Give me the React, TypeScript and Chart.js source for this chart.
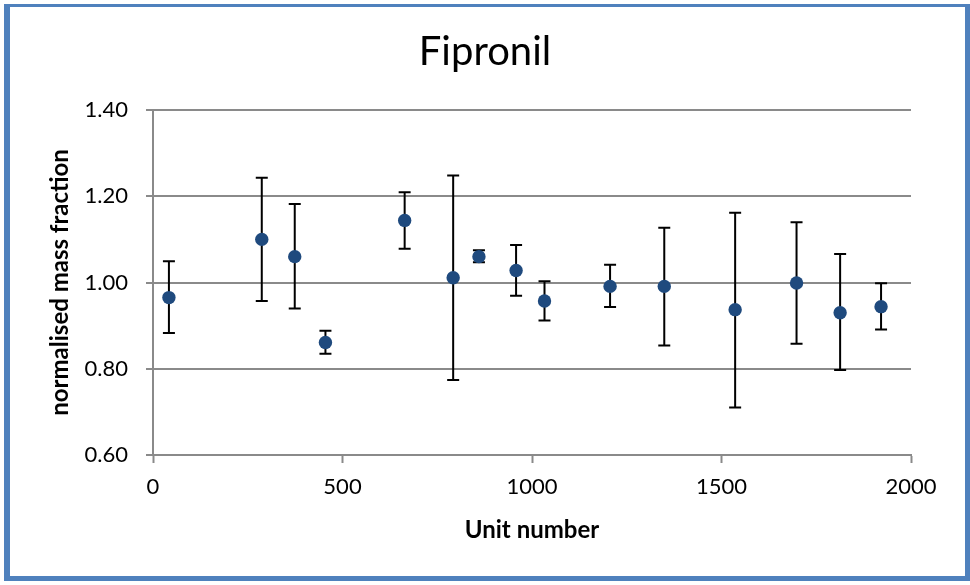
import React, { useEffect, useRef } from "react";
import { Chart, registerables } from "chart.js";

Chart.register(...registerables);

// Unit numbers sampled and their normalised mass fractions with uncertainty limits
const units = [42, 287, 374, 455, 664, 792, 860, 958, 1033, 1206, 1349, 1536, 1698, 1813, 1921];
const means = [0.965, 1.1, 1.06, 0.861, 1.144, 1.011, 1.06, 1.028, 0.957, 0.991, 0.991, 0.937, 0.999, 0.93, 0.944];
const upper = [1.049, 1.243, 1.182, 0.888, 1.209, 1.248, 1.075, 1.087, 1.003, 1.041, 1.127, 1.162, 1.14, 1.066, 0.998];
const lower = [0.883, 0.957, 0.94, 0.835, 1.078, 0.774, 1.047, 0.969, 0.912, 0.943, 0.854, 0.71, 0.858, 0.797, 0.891];

const TITLE = "Fipronil";
const FONT = "Lato, 'Open Sans', sans-serif";
const GRID = "#8a8a8a";

// Vertical error bars with caps, drawn beneath the markers
const errorBars = {
  id: "errorBars",
  beforeDatasetsDraw(chart: any) {
    const { ctx, scales } = chart;
    const xs = scales.x;
    const ys = scales.y;
    ctx.save();
    ctx.strokeStyle = "#000000";
    ctx.lineWidth = 2;
    const cap = 6;
    units.forEach((u, i) => {
      const px = xs.getPixelForValue(u);
      const top = ys.getPixelForValue(upper[i]);
      const bot = ys.getPixelForValue(lower[i]);
      ctx.beginPath();
      ctx.moveTo(px, top);
      ctx.lineTo(px, bot);
      ctx.moveTo(px - cap, top);
      ctx.lineTo(px + cap, top);
      ctx.moveTo(px - cap, bot);
      ctx.lineTo(px + cap, bot);
      ctx.stroke();
    });
    ctx.restore();
  },
};

// Chart heading centred on the whole canvas
const heading = {
  id: "heading",
  afterDraw(chart: any) {
    const { ctx } = chart;
    ctx.save();
    ctx.fillStyle = "#000000";
    ctx.font = `normal 40px ${FONT}`;
    ctx.textAlign = "center";
    ctx.textBaseline = "alphabetic";
    ctx.fillText(TITLE, chart.width / 2, 65);
    ctx.restore();
  },
};

export default function App() {
  const canvasRef = useRef<HTMLCanvasElement | null>(null);

  useEffect(() => {
    if (!canvasRef.current) return;
    const chart = new Chart(canvasRef.current, {
      type: "scatter",
      data: {
        datasets: [
          {
            label: TITLE,
            data: units.map((u, i) => ({ x: u, y: means[i] })),
            backgroundColor: "#1F4A7E",
            borderWidth: 0,
            pointRadius: 6.7,
            pointHoverRadius: 6.7,
          },
        ],
      },
      options: {
        responsive: false,
        animation: false,
        devicePixelRatio: 1,
        layout: { padding: { left: 0, right: 59, top: 110, bottom: 0 } },
        plugins: {
          legend: { display: false },
          tooltip: { enabled: false },
          title: { display: false },
        },
        scales: {
          x: {
            type: "linear",
            min: 0,
            max: 2000,
            afterFit: (s: any) => {
              s.height = 130;
            },
            ticks: {
              stepSize: 500,
              color: "#000000",
              font: { family: FONT, size: 22 },
              padding: 11,
              maxRotation: 0,
              callback: (v: any) => String(v),
            },
            grid: {
              drawOnChartArea: false,
              drawTicks: true,
              tickLength: 8,
              tickColor: GRID,
              tickWidth: 2,
            },
            border: { display: true, color: GRID, width: 2 },
            title: {
              display: true,
              text: "Unit number",
              color: "#000000",
              font: { family: FONT, size: 24, weight: "bold", lineHeight: 1.2 },
              padding: { top: 0, bottom: 40.6 },
            },
          },
          y: {
            type: "linear",
            min: 0.6,
            max: 1.4,
            afterFit: (s: any) => {
              s.width = 153;
            },
            ticks: {
              stepSize: 0.2,
              color: "#000000",
              font: { family: FONT, size: 22 },
              padding: 18,
              callback: (v: any) => Number(v).toFixed(2),
            },
            grid: {
              color: GRID,
              lineWidth: 2,
              drawTicks: true,
              tickLength: 7,
              tickColor: GRID,
            },
            border: { display: true, color: GRID, width: 2 },
            title: {
              display: true,
              text: "normalised mass fraction",
              color: "#000000",
              font: { family: FONT, size: 24, weight: "bold", lineHeight: 1.2 },
              padding: { top: 45.6, bottom: 0 },
            },
          },
        },
      },
      plugins: [errorBars, heading],
    });
    return () => chart.destroy();
  }, []);

  return (
    <div style={{ position: "fixed", left: 0, top: 0, width: 970, height: 585, background: "#ffffff" }}>
      <div
        style={{
          position: "absolute",
          left: 4,
          top: 4,
          width: 966,
          height: 577,
          boxSizing: "border-box",
          borderStyle: "solid",
          borderColor: "#4F81BD",
          borderWidth: "3px 5px 5px 6px",
        }}
      />
      <canvas ref={canvasRef} width={970} height={585} style={{ position: "absolute", left: 0, top: 0 }} />
    </div>
  );
}
